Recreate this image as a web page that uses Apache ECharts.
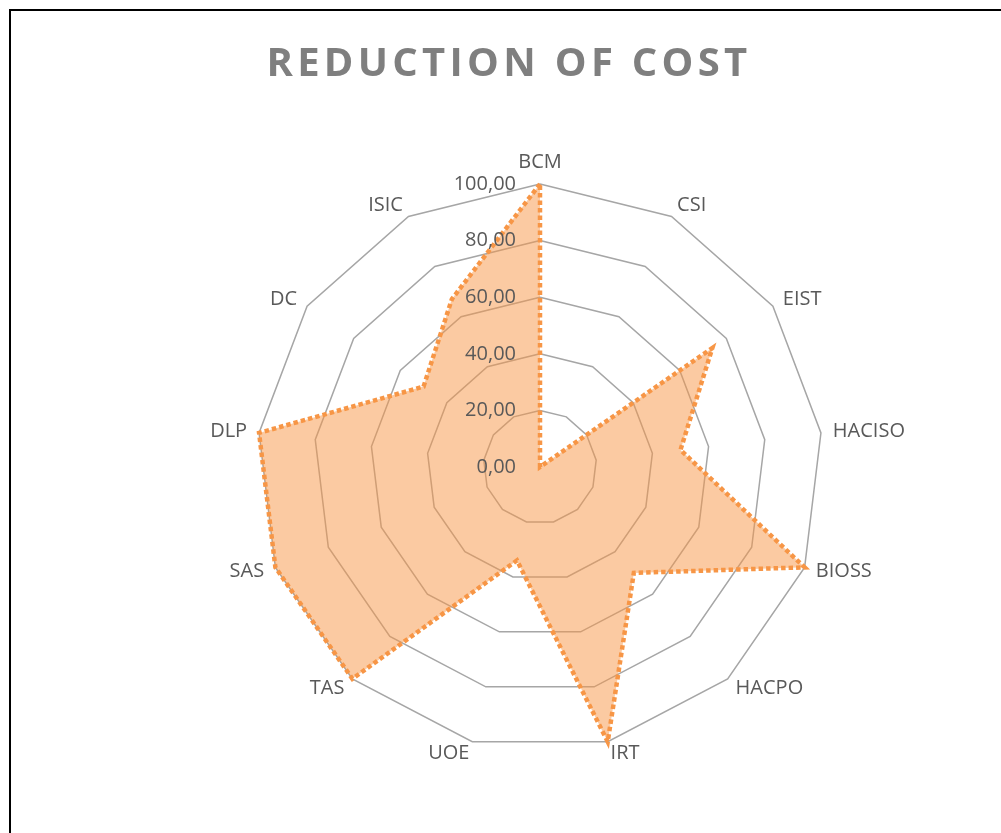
<!DOCTYPE html>
<html>
<head>
<meta charset="utf-8">
<script src="https://cdn.jsdelivr.net/npm/echarts@6/dist/echarts.min.js"></script>
<style>
  html, body { margin: 0; padding: 0; background: #fff; overflow: hidden; }
  #wrap { position: relative; width: 1001px; height: 833px; }
  #frame { position: absolute; left: 9px; top: 9px; width: 1200px; height: 1000px;
           border-left: 2px solid #000; border-top: 2px solid #000; pointer-events: none; }
  #title { position: absolute; left: 0; top: 41px; width: 1018px; text-align: center;
           font-family: "Open Sans", sans-serif; font-weight: bold; font-size: 40px;
           line-height: 40px; letter-spacing: 4.3px; color: #7f7f7f; white-space: nowrap; }
  #chart { position: absolute; left: 0; top: 0; width: 1001px; height: 833px; }
</style>
</head>
<body>
<div id="wrap">
  <div id="chart"></div>
  <div id="title">REDUCTION OF COST</div>
  <div id="frame"></div>
</div>
<script>
// Radar axes, clockwise from the top
const categories = ['BCM', 'CSI', 'EIST', 'HACISO', 'BIOSS', 'HACPO', 'IRT',
                    'UOE', 'TAS', 'SAS', 'DLP', 'DC', 'ISIC'];
// Cost-reduction score per axis
const costValues = [100, 0, 74, 50, 100, 50, 100, 34, 100, 100, 100, 50, 67];
// Scale of every axis
const axisMin = 0;
const axisMax = 100;
const ringCount = 5;

const labelFont = '"Open Sans", sans-serif';
const textColor = '#595959';
const center = [540, 467];
const radius = 283;

const fmt = v => Number(v).toFixed(2).replace('.', ',');

// ECharts lays radar axes out counter-clockwise, so keep the first axis
// on top and reverse the rest to get a clockwise order.
const order = [0].concat(categories.map((_, i) => i).slice(1).reverse());

const makeIndicators = withLabel => order.map((idx, pos) => {
  const item = { name: categories[idx], min: axisMin, max: axisMax };
  if (withLabel && pos === 0) {
    item.axisLabel = { show: true };
  }
  return item;
});
const seriesValues = order.map(idx => costValues[idx]);

const chart = echarts.init(document.getElementById('chart'), null, { renderer: 'canvas' });
chart.setOption({
  animation: false,
  backgroundColor: 'transparent',
  radar: [
    {
      // rings and axis names, drawn under the filled area
      center: center,
      radius: radius,
      startAngle: 90,
      shape: 'polygon',
      splitNumber: ringCount,
      indicator: makeIndicators(false),
      nameGap: 12,
      axisName: {
        color: textColor,
        fontFamily: labelFont,
        fontSize: 20
      },
      axisLine: { show: false },
      axisTick: { show: false },
      axisLabel: { show: false },
      splitLine: { lineStyle: { color: '#a6a6a6', width: 1.5 } },
      splitArea: { show: false },
      z: 1
    },
    {
      // value labels on the vertical axis, drawn above the filled area
      center: center,
      radius: radius,
      startAngle: 90,
      shape: 'polygon',
      splitNumber: ringCount,
      indicator: makeIndicators(true),
      axisName: { show: false },
      axisLine: { show: false },
      axisTick: { show: false },
      axisLabel: {
        show: false,
        margin: 24,
        color: textColor,
        fontFamily: labelFont,
        fontSize: 20,
        formatter: fmt
      },
      splitLine: { show: false },
      splitArea: { show: false },
      z: 5
    }
  ],
  series: [{
    type: 'radar',
    radarIndex: 0,
    symbol: 'none',
    z: 2,
    data: [{
      value: seriesValues,
      name: 'Reduction of cost'
    }],
    lineStyle: {
      color: '#f79646',
      width: 4.5,
      type: [4.5, 3],
      cap: 'butt',
      join: 'miter'
    },
    areaStyle: { color: '#f79646', opacity: 0.5 }
  }]
});
</script>
</body>
</html>
